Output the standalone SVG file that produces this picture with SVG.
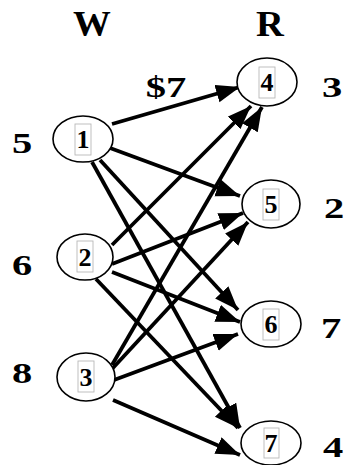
<svg xmlns="http://www.w3.org/2000/svg" width="346" height="465" viewBox="0 0 346 465">
<style>
.lbl{font-family:"Liberation Serif","Times New Roman",serif;font-weight:bold;fill:#000;text-anchor:middle}
.big{font-size:30px}
.hd{font-size:35px}
.num{font-family:"Liberation Serif","Times New Roman",serif;font-weight:bold;font-size:26px;text-anchor:middle;fill:#000}
.node ellipse{fill:#fff;stroke:#000;stroke-width:1.6}
.node rect{fill:none;stroke:#b8b8b8;stroke-width:0.9}
.edges line{stroke:#000;stroke-width:3.8;marker-end:url(#ah)}
</style>
<defs>
<marker id="ah" markerUnits="userSpaceOnUse" markerWidth="26" markerHeight="20" refX="24" refY="9" orient="auto">
<path d="M0,0 L24,9 L0,18 Z" fill="#000"/>
</marker>
</defs>
<rect width="346" height="465" fill="#fff"/>

<g id="headers">
<text class="lbl hd" transform="translate(92,36) scale(1.08,1)">W</text>
<text class="lbl hd" transform="translate(270,36) scale(1.1,1)">R</text>
</g>

<g id="side-labels">
<text class="lbl big" transform="translate(22,153) scale(1.35,1)">5</text>
<text class="lbl big" transform="translate(22,275) scale(1.35,1)">6</text>
<text class="lbl big" transform="translate(22,383) scale(1.35,1)">8</text>
<text class="lbl big" transform="translate(332,97) scale(1.35,1)">3</text>
<text class="lbl big" transform="translate(334,218) scale(1.35,1)">2</text>
<text class="lbl big" transform="translate(331,338) scale(1.35,1)">7</text>
<text class="lbl big" transform="translate(333,457) scale(1.35,1)">4</text>
<text class="lbl big" transform="translate(166,97) scale(1.35,1)">$7</text>
</g>

<g class="edges" id="connectors">
<line x1="112" y1="124" x2="240" y2="87"/>
<line x1="110" y1="148" x2="240" y2="196"/>
<line x1="100" y1="160" x2="238" y2="310"/>
<line x1="92" y1="162" x2="240" y2="428"/>
<line x1="112" y1="245" x2="251" y2="106"/>
<line x1="112" y1="264" x2="243" y2="213"/>
<line x1="112" y1="272" x2="240" y2="322"/>
<line x1="96" y1="279" x2="238" y2="428"/>
<line x1="112" y1="365" x2="262" y2="107"/>
<line x1="112" y1="369" x2="248" y2="222"/>
<line x1="114" y1="380" x2="238" y2="334"/>
<line x1="113" y1="400" x2="240" y2="455"/>
</g>

<g id="n1" class="node"><ellipse cx="83" cy="139" rx="30" ry="23"/><rect x="75" y="124" width="16" height="31"/><text class="num" x="83" y="148">1</text></g>
<g id="n2" class="node"><ellipse cx="85" cy="257" rx="28" ry="23"/><rect x="77" y="241" width="16" height="31"/><text class="num" x="85" y="266">2</text></g>
<g id="n3" class="node"><ellipse cx="86" cy="377" rx="29" ry="24"/><rect x="78" y="361" width="16" height="31"/><text class="num" x="86" y="386">3</text></g>
<g id="n4" class="node"><ellipse cx="267" cy="82" rx="30" ry="24"/><rect x="259" y="67" width="16" height="31"/><text class="num" x="267" y="91">4</text></g>
<g id="n5" class="node"><ellipse cx="271" cy="204" rx="29" ry="24"/><rect x="263" y="189" width="16" height="31"/><text class="num" x="271" y="213">5</text></g>
<g id="n6" class="node"><ellipse cx="271" cy="324" rx="30" ry="23"/><rect x="263" y="309" width="16" height="31"/><text class="num" x="271" y="333">6</text></g>
<g id="n7" class="node"><ellipse cx="271" cy="443" rx="30" ry="22"/><rect x="264" y="428" width="15" height="30"/><text class="num" x="271" y="452">7</text></g>
</svg>
